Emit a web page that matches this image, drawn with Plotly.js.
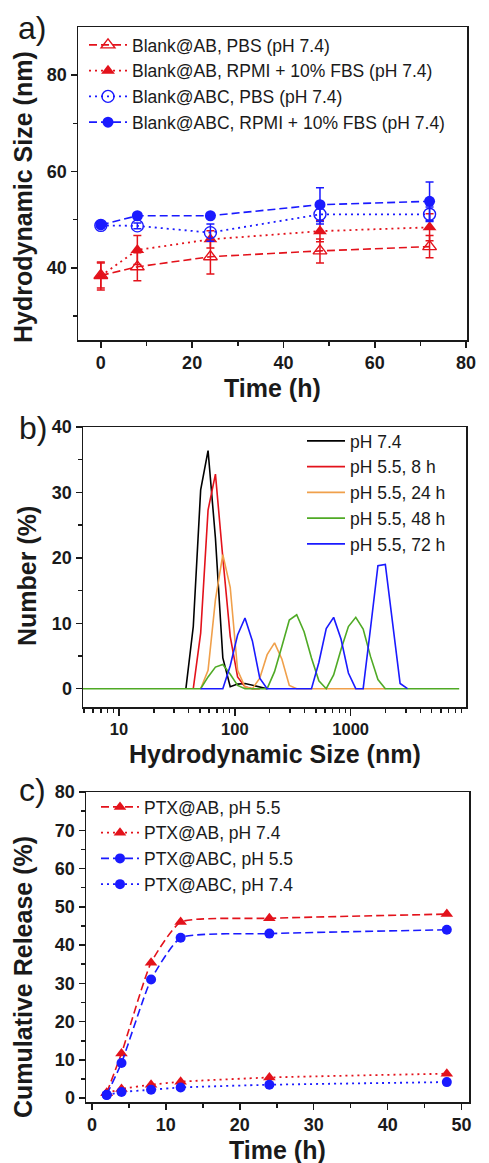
<!DOCTYPE html>
<html>
<head>
<meta charset="utf-8">
<script src="https://cdn.plot.ly/plotly-3.0.1.min.js"></script>
<style>
  html, body { margin: 0; padding: 0; background: #ffffff; }
  #chart { width: 489px; height: 1163px; }
</style>
</head>
<body>
<div id="chart"></div>
<script>
// ---------- Panel a: hydrodynamic size vs time ----------
const timeA = [0, 8, 24, 48, 72];
const abPBS = [38.4, 40.2, 42.3, 43.5, 44.4];
const abPBSErr = [2.6, 2.9, 3.6, 2.5, 2.3];
const abRPMI = [38.3, 43.7, 45.9, 47.6, 48.4];
const abRPMIErr = [2.9, 3.0, 1.8, 2.2, 2.8];
const abcPBS = [48.8, 48.7, 47.3, 51.1, 51.1];
const abcPBSErr = [0.4, 0.6, 1.8, 2.0, 1.5];
const abcRPMI = [48.9, 50.8, 50.8, 53.1, 53.8];
const abcRPMIErr = [0.4, 0.5, 0.5, 3.5, 4.0];
const namesA = ["Blank@AB, PBS (pH 7.4)", "Blank@AB, RPMI + 10% FBS (pH 7.4)",
                "Blank@ABC, PBS (pH 7.4)", "Blank@ABC, RPMI + 10% FBS (pH 7.4)"];

// ---------- Panel b: size distributions ----------
const sizeB74 = [37.84, 43.82, 50.75, 58.77, 68.06, 78.82, 91.28, 105.7, 122.4, 141.8, 164.2, 190.1];
const numB74  = [0, 9.5, 30.4, 36.4, 23.0, 4.7, 0.3, 0.7, 0.8, 0.5, 0.2, 0];
const sizeB8  = [43.82, 50.75, 58.77, 68.06, 78.82, 91.28, 105.7, 122.4, 141.8, 164.2];
const numB8   = [0, 8.5, 27.3, 32.8, 20.0, 8.0, 1.8, 0.3, 0, 0];
const sizeB24 = [50.75, 58.77, 68.06, 78.82, 91.28, 105.7, 122.4, 141.8, 164.2, 190.1, 220.2, 255.0, 295.3, 342.0, 1990];
const numB24  = [0, 2.8, 13.6, 20.5, 15.5, 2.8, 0.3, 0, 1.6, 5.2, 7.0, 4.5, 0.5, 0, 0];
const sizeB48 = [4, 50.75, 58.77, 68.06, 78.82, 91.28, 105.7, 122.4, 190.1, 220.2, 255.0, 295.3, 342.0, 396.1,
                 458.7, 531.2, 615.1, 712.4, 825.0, 955.4, 1106, 1281, 1484, 1718, 1990, 8635];
const numB48  = [0, 0, 1.8, 3.3, 3.7, 2.2, 0.5, 0, 0, 2.6, 6.5, 10.5, 11.3, 8.7,
                 4.7, 1.2, 0, 2.1, 6.0, 9.5, 10.9, 9.1, 4.9, 1.4, 0, 0];
const sizeB72 = [50.75, 78.82, 91.28, 105.7, 122.4, 141.8, 164.2, 190.1, 458.7, 531.2, 615.1, 712.4, 825.0,
                 955.4, 1106, 1281, 1484, 1718, 1990, 2305, 2669, 3091];
const numB72  = [0, 0, 3.5, 8.2, 10.8, 7.3, 1.6, 0, 0, 4.0, 9.2, 10.9, 7.6,
                 2.4, 0, 0, 9.3, 18.8, 19.0, 10.0, 0.8, 0];
const namesB = ["pH 7.4", "pH 5.5, 8 h", "pH 5.5, 24 h", "pH 5.5, 48 h", "pH 5.5, 72 h"];
const colorsB = ["#000000", "#e3121b", "#f0a04b", "#4faa25", "#1a1aff"];

// ---------- Panel c: cumulative release ----------
const timeC = [2, 4, 8, 12, 24, 48];
const abPH55 = [1.4, 11.7, 35.4, 46.0, 47.0, 48.1];
const abPH74 = [1.3, 2.4, 3.5, 4.3, 5.4, 6.4];
const abcPH55 = [0.9, 9.2, 31.0, 41.9, 43.0, 44.0];
const abcPH74 = [0.8, 1.6, 2.2, 2.8, 3.5, 4.2];
const namesC = ["PTX@AB, pH 5.5", "PTX@AB, pH 7.4", "PTX@ABC, pH 5.5", "PTX@ABC, pH 7.4"];

const RED = "#e3121b";
const BLUE = "#1a1aff";
const FONT = "Liberation Sans, Arial, sans-serif";
const DASH = "8px,4px";
const DOT = "2px,4px";

const W = 489, H = 1163;
const px = v => v / W;
const py = v => 1 - v / H;

function errBar(arr, color) {
  return { type: "data", array: arr, visible: true, color: color, thickness: 1.5, width: 4 };
}

const traces = [];
// Panel a
traces.push({ x: timeA, y: abPBS, name: namesA[0], xaxis: "x", yaxis: "y", legend: "legend",
  mode: "lines+markers", line: { color: RED, width: 1.6, dash: DASH },
  marker: { symbol: "triangle-up-open", size: 12, color: RED, line: { width: 1.4, color: RED } },
  error_y: errBar(abPBSErr, RED) });
traces.push({ x: timeA, y: abRPMI, name: namesA[1], xaxis: "x", yaxis: "y", legend: "legend",
  mode: "lines+markers", line: { color: RED, width: 1.8, dash: DOT },
  marker: { symbol: "triangle-up", size: 12, color: RED },
  error_y: errBar(abRPMIErr, RED) });
traces.push({ x: timeA, y: abcPBS, name: namesA[2], xaxis: "x", yaxis: "y", legend: "legend",
  mode: "lines+markers", line: { color: BLUE, width: 1.8, dash: DOT },
  marker: { symbol: "circle-open", size: 12, color: BLUE, line: { width: 1.4, color: BLUE } },
  error_y: errBar(abcPBSErr, BLUE) });
traces.push({ x: timeA, y: abcRPMI, name: namesA[3], xaxis: "x", yaxis: "y", legend: "legend",
  mode: "lines+markers", line: { color: BLUE, width: 1.6, dash: DASH },
  marker: { symbol: "circle", size: 11, color: BLUE },
  error_y: errBar(abcRPMIErr, BLUE) });

// Panel b
const bx = [sizeB74, sizeB8, sizeB24, sizeB48, sizeB72];
const by = [numB74, numB8, numB24, numB48, numB72];
for (let i = 0; i < 5; i++) {
  traces.push({ x: bx[i], y: by[i], name: namesB[i], xaxis: "x2", yaxis: "y2", legend: "legend2",
    mode: "lines", line: { color: colorsB[i], width: 1.6 } });
}

// Panel c
traces.push({ x: timeC, y: abPH55, name: namesC[0], xaxis: "x3", yaxis: "y3", legend: "legend3",
  mode: "lines+markers", line: { color: RED, width: 1.6, dash: DASH, shape: "spline", smoothing: 0.5 },
  marker: { symbol: "triangle-up", size: 11, color: RED } });
traces.push({ x: timeC, y: abPH74, name: namesC[1], xaxis: "x3", yaxis: "y3", legend: "legend3",
  mode: "lines+markers", line: { color: RED, width: 1.8, dash: DOT, shape: "spline", smoothing: 0.5 },
  marker: { symbol: "triangle-up", size: 11, color: RED } });
traces.push({ x: timeC, y: abcPH55, name: namesC[2], xaxis: "x3", yaxis: "y3", legend: "legend3",
  mode: "lines+markers", line: { color: BLUE, width: 1.6, dash: DASH, shape: "spline", smoothing: 0.5 },
  marker: { symbol: "circle", size: 10, color: BLUE } });
traces.push({ x: timeC, y: abcPH74, name: namesC[3], xaxis: "x3", yaxis: "y3", legend: "legend3",
  mode: "lines+markers", line: { color: BLUE, width: 1.8, dash: DOT, shape: "spline", smoothing: 0.5 },
  marker: { symbol: "circle", size: 10, color: BLUE } });

function axisBase(extra) {
  return Object.assign({
    showline: true, linecolor: "#1a1a1a", linewidth: 1.5, mirror: true,
    ticks: "outside", ticklen: 6, tickwidth: 1.5, tickcolor: "#1a1a1a",
    showgrid: false, zeroline: false,
    tickfont: { family: FONT, size: 18, color: "#1a1a1a", weight: "bold" },
    minor: { ticks: "outside", ticklen: 4, tickwidth: 1.5, tickcolor: "#1a1a1a", showgrid: false }
  }, extra);
}

function legendBase(x, y) {
  return { x: x, y: y, xanchor: "left", yanchor: "top", xref: "paper", yref: "paper",
    bgcolor: "rgba(0,0,0,0)", borderwidth: 0, tracegroupgap: 0, itemwidth: 38,
    font: { family: FONT, size: 17.5, color: "#1a1a1a" } };
}

function title(text, x, y, rot, size) {
  return { text: text, x: px(x), y: py(y), xref: "paper", yref: "paper", showarrow: false,
    xanchor: "center", yanchor: "middle", textangle: rot || 0,
    font: { family: FONT, size: size || 25, color: "#1a1a1a", weight: "bold" } };
}
function label(text, x, y) {
  return { text: text, x: px(x), y: py(y), xref: "paper", yref: "paper", showarrow: false,
    xanchor: "center", yanchor: "middle", font: { family: FONT, size: 32, color: "#1a1a1a" } };
}

const layout = {
  width: W, height: H,
  margin: { l: 0, r: 0, t: 0, b: 0 },
  paper_bgcolor: "#ffffff", plot_bgcolor: "#ffffff",
  showlegend: true,
  xaxis: axisBase({ domain: [px(78), px(467)], anchor: "y", range: [-5, 80.2], dtick: 20,
    minor: { ticks: "outside", ticklen: 4, tickwidth: 1.5, tickcolor: "#1a1a1a", dtick: 10, showgrid: false } }),
  yaxis: axisBase({ domain: [py(340), py(27)], anchor: "x", range: [25, 90], tickvals: [40, 60, 80],
    minor: { ticks: "outside", ticklen: 4, tickwidth: 1.5, tickcolor: "#1a1a1a", tickvals: [30, 50, 70], showgrid: false } }),
  xaxis2: axisBase({ domain: [px(83), px(466)], anchor: "y2", type: "log", range: [0.69, 3.995], dtick: 1,
    ticklen: 7,
    tickfont: { family: FONT, size: 16.5, color: "#1a1a1a", weight: "bold" },
    minor: { ticks: "outside", ticklen: 4, tickwidth: 1.5, tickcolor: "#1a1a1a", dtick: "D1", showgrid: false } }),
  yaxis2: axisBase({ domain: [py(707), py(427)], anchor: "x2", range: [-2.8, 40], dtick: 10,
    minor: { ticks: "outside", ticklen: 4, tickwidth: 1.5, tickcolor: "#1a1a1a", dtick: 5, showgrid: false } }),
  xaxis3: axisBase({ domain: [px(86), px(469)], anchor: "y3", range: [-0.8, 51], dtick: 10,
    minor: { ticks: "outside", ticklen: 4, tickwidth: 1.5, tickcolor: "#1a1a1a", dtick: 5, showgrid: false } }),
  yaxis3: axisBase({ domain: [py(1102), py(792)], anchor: "x3", range: [-1, 80], dtick: 10,
    minor: { ticks: "outside", ticklen: 4, tickwidth: 1.5, tickcolor: "#1a1a1a", dtick: 5, showgrid: false } }),
  legend: legendBase(px(84), py(27)),
  legend2: legendBase(px(302), py(423)),
  legend3: legendBase(px(96), py(789)),
  annotations: [
    label("a)", 32, 28),
    label("b)", 33, 428),
    label("c)", 32, 790),
    title("Time (h)", 272, 388),
    title("Hydrodynamic Size (nm)", 23, 197, -90),
    title("Hydrodynamic Size (nm)", 275, 754),
    title("Number (%)", 27, 576, -90),
    title("Time (h)", 277, 1150),
    title("Cumulative Release (%)", 23, 977, -90)
  ]
};

Plotly.newPlot("chart", traces, layout, { displayModeBar: false, staticPlot: true });
</script>
</body>
</html>
